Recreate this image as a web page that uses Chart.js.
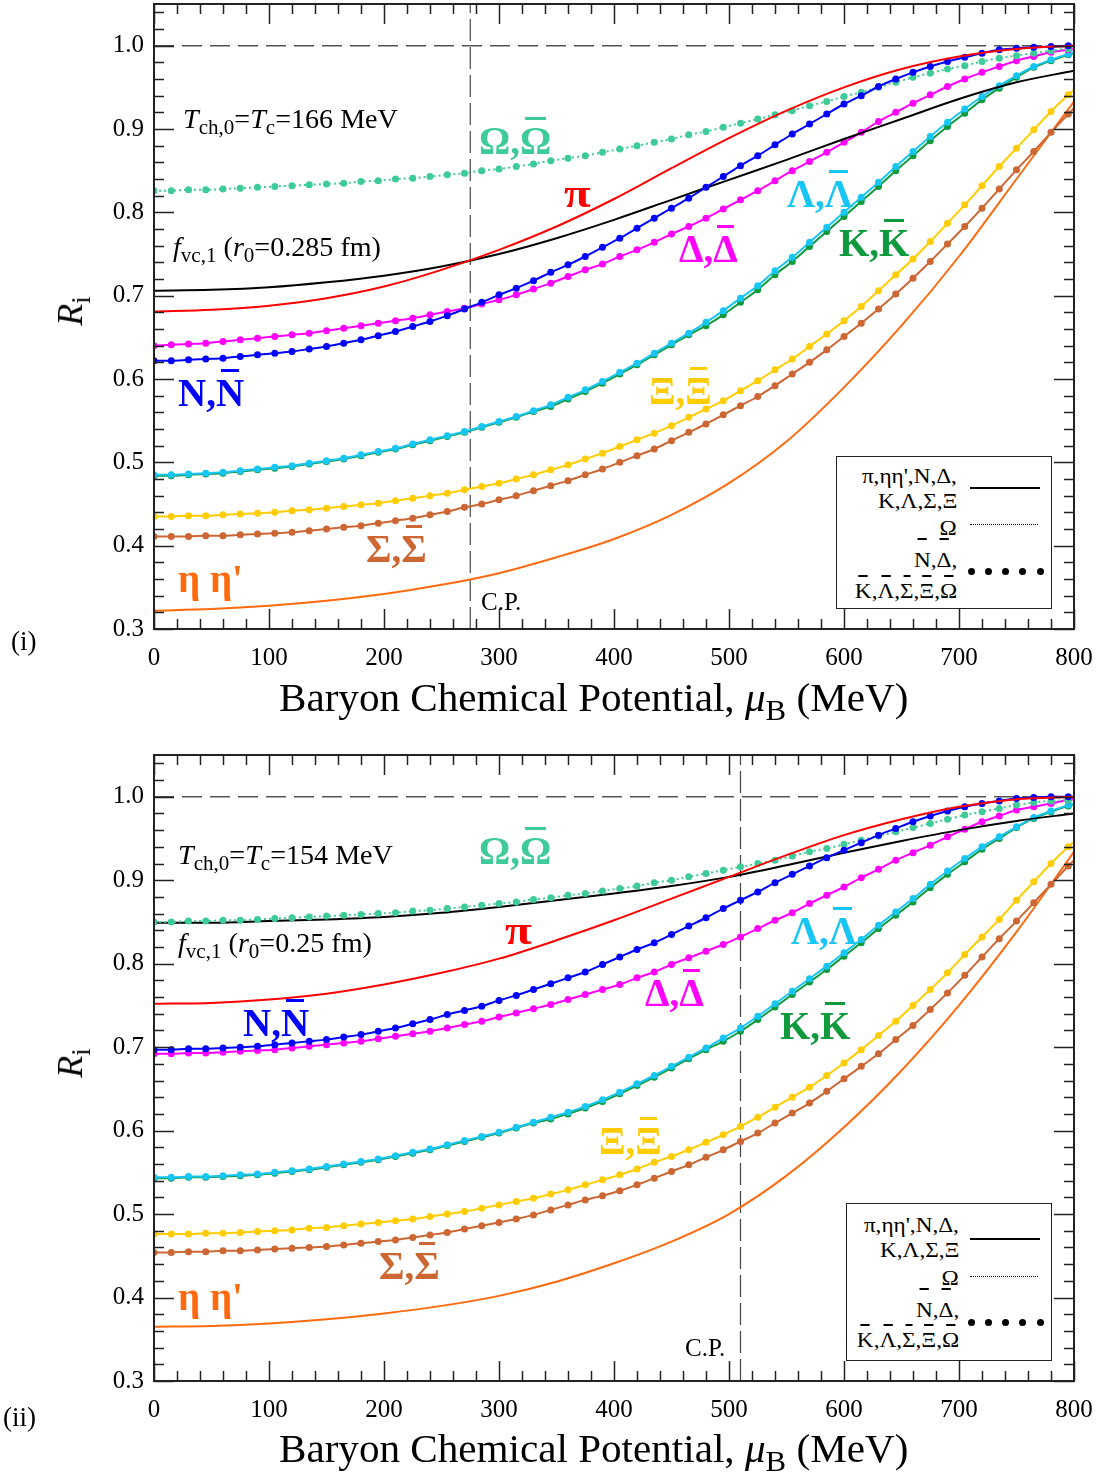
<!DOCTYPE html>
<html>
<head>
<meta charset="utf-8">
<script src="https://cdn.jsdelivr.net/npm/chart.js@4.4.0/dist/chart.umd.min.js"></script>
<style>
  body { margin: 0; background: #fff; }
  #page { position: relative; width: 1101px; height: 1483px; overflow: hidden;
          font-family: 'Liberation Serif', 'Times New Roman', serif; color: #000; }
  canvas { position: absolute; left: 0; }
  .txt { position: absolute; line-height: 1; white-space: nowrap; }
  .txt sub { font-size: 0.75em; vertical-align: -0.3em; line-height: 0; }
  .lab { font-weight: bold; }
  .ov, .ova, .ovb { position: relative; display: inline-block; }
  .ov::after { content: ''; position: absolute; left: 17%; right: 17%; top: -0.1em; height: 3px; background: currentColor; }
  .ova::after { content: ''; position: absolute; left: 22%; right: 22%; top: -0.6em; height: 1.5px; background: #000; }
  .ovb::after { content: ''; position: absolute; left: 22%; right: 22%; top: -0.3em; height: 1.5px; background: #000; }
  .caja { position: absolute; border: 1.5px solid #222; background: #fff; box-sizing: border-box; }
  .muestra { position: absolute; }
  .punto { position: absolute; width: 7px; height: 7px; border-radius: 50%; background: #000; }
</style>
</head>
<body>
<div id="page">
  <canvas id="chart1" width="1101" height="741" style="top:0px"></canvas>
  <canvas id="chart2" width="1101" height="742" style="top:741px"></canvas>
</div>
<script>
/* Datos */

// potencial quimico barionico (MeV), malla de los puntos
const muB = [0, 15, 30, 45, 60, 75, 90, 105, 120, 135, 150, 165, 180, 195, 210, 225, 240, 255, 270, 285,
  300, 315, 330, 345, 360, 375, 390, 405, 420, 435, 450, 465, 480, 495, 510, 525, 540, 555, 570, 585,
  600, 615, 630, 645, 660, 675, 690, 705, 720, 735, 750, 765, 780, 795, 800];
// malla de las curvas sin puntos
const muLinea = [0, 50, 100, 150, 200, 250, 300, 350, 400, 450, 500, 550, 600, 650, 700, 750, 800];

// punto critico (MeV) en cada panel
const cpMu = [275, 510];

// etiquetas de los ejes
const xTicks = [0, 100, 200, 300, 400, 500, 600, 700, 800];
const yTicks = [0.3, 0.4, 0.5, 0.6, 0.7, 0.8, 0.9, 1.0];

/* Panel (i): Tc = 166 MeV */
const N_1 = [0.622, 0.622, 0.623, 0.624, 0.625, 0.627, 0.629, 0.631, 0.633, 0.636, 0.639, 0.643, 0.647, 0.652, 0.657, 0.663, 0.669, 0.676, 0.684, 0.692,
  0.701, 0.709, 0.718, 0.728, 0.737, 0.747, 0.758, 0.769, 0.781, 0.793, 0.805, 0.817, 0.830, 0.843, 0.856, 0.868, 0.881, 0.894, 0.906, 0.918,
  0.930, 0.940, 0.951, 0.960, 0.968, 0.975, 0.981, 0.986, 0.991, 0.995, 0.997, 0.998, 0.999, 1.000, 1.000];
const Delta_1 = [0.640, 0.641, 0.642, 0.643, 0.645, 0.647, 0.649, 0.651, 0.653, 0.655, 0.658, 0.661, 0.664, 0.667, 0.670, 0.673, 0.677, 0.681, 0.685, 0.690,
  0.695, 0.701, 0.708, 0.715, 0.723, 0.731, 0.738, 0.747, 0.755, 0.764, 0.774, 0.783, 0.793, 0.804, 0.815, 0.826, 0.838, 0.850, 0.861, 0.872,
  0.884, 0.896, 0.909, 0.920, 0.931, 0.941, 0.951, 0.960, 0.968, 0.975, 0.982, 0.987, 0.992, 0.995, 0.996];
const Omega_1 = [0.826, 0.826, 0.827, 0.827, 0.828, 0.829, 0.830, 0.831, 0.832, 0.833, 0.834, 0.835, 0.837, 0.838, 0.840, 0.841, 0.843, 0.845, 0.847, 0.850,
  0.852, 0.855, 0.858, 0.862, 0.865, 0.868, 0.872, 0.876, 0.880, 0.884, 0.888, 0.893, 0.897, 0.902, 0.907, 0.912, 0.917, 0.922, 0.928, 0.933,
  0.939, 0.944, 0.950, 0.956, 0.962, 0.967, 0.972, 0.976, 0.981, 0.985, 0.988, 0.991, 0.994, 0.996, 0.996];
const Lambda_1 = [0.485, 0.485, 0.486, 0.487, 0.488, 0.490, 0.492, 0.494, 0.496, 0.499, 0.502, 0.505, 0.509, 0.513, 0.517, 0.522, 0.527, 0.532, 0.537, 0.543,
  0.549, 0.555, 0.562, 0.569, 0.578, 0.587, 0.597, 0.608, 0.619, 0.631, 0.643, 0.655, 0.668, 0.682, 0.697, 0.712, 0.730, 0.746, 0.764, 0.782,
  0.800, 0.818, 0.836, 0.855, 0.873, 0.891, 0.908, 0.924, 0.939, 0.952, 0.964, 0.975, 0.983, 0.990, 0.992];
const K_1 = [0.484, 0.484, 0.485, 0.486, 0.487, 0.489, 0.491, 0.493, 0.495, 0.498, 0.501, 0.504, 0.508, 0.512, 0.516, 0.521, 0.526, 0.531, 0.536, 0.542,
  0.548, 0.554, 0.561, 0.567, 0.576, 0.585, 0.595, 0.606, 0.617, 0.629, 0.641, 0.653, 0.664, 0.677, 0.692, 0.707, 0.725, 0.741, 0.759, 0.777,
  0.795, 0.813, 0.831, 0.850, 0.868, 0.886, 0.903, 0.919, 0.935, 0.949, 0.962, 0.974, 0.982, 0.989, 0.991];
const Xi_1 = [0.435, 0.435, 0.436, 0.436, 0.437, 0.438, 0.439, 0.440, 0.442, 0.443, 0.445, 0.447, 0.449, 0.451, 0.454, 0.457, 0.460, 0.463, 0.467, 0.471,
  0.475, 0.480, 0.485, 0.491, 0.497, 0.504, 0.511, 0.519, 0.527, 0.535, 0.544, 0.554, 0.564, 0.574, 0.586, 0.598, 0.611, 0.624, 0.639, 0.654,
  0.670, 0.687, 0.706, 0.725, 0.744, 0.765, 0.787, 0.809, 0.832, 0.855, 0.877, 0.899, 0.921, 0.941, 0.947];
const Sigma_1 = [0.411, 0.411, 0.411, 0.412, 0.412, 0.413, 0.414, 0.415, 0.416, 0.418, 0.420, 0.422, 0.424, 0.427, 0.430, 0.433, 0.437, 0.441, 0.446, 0.450,
  0.455, 0.460, 0.466, 0.472, 0.478, 0.485, 0.492, 0.500, 0.508, 0.516, 0.526, 0.536, 0.546, 0.557, 0.568, 0.579, 0.592, 0.606, 0.620, 0.635,
  0.651, 0.667, 0.684, 0.702, 0.721, 0.741, 0.762, 0.783, 0.805, 0.828, 0.851, 0.873, 0.896, 0.918, 0.925];
const pi_1 = [0.681, 0.683, 0.688, 0.697, 0.711, 0.731, 0.755, 0.783, 0.816, 0.853, 0.889, 0.922, 0.950, 0.972, 0.987, 0.996, 1.000];
const fvc_1 = [0.706, 0.707, 0.710, 0.716, 0.724, 0.735, 0.750, 0.769, 0.791, 0.815, 0.839, 0.863, 0.888, 0.912, 0.936, 0.956, 0.970];
const eta_1 = [0.322, 0.324, 0.328, 0.334, 0.342, 0.353, 0.367, 0.386, 0.408, 0.437, 0.475, 0.525, 0.590, 0.664, 0.747, 0.840, 0.933];

/* Panel (ii): Tc = 154 MeV */
const N_2 = [0.697, 0.697, 0.698, 0.698, 0.699, 0.700, 0.701, 0.703, 0.705, 0.707, 0.709, 0.712, 0.715, 0.719, 0.723, 0.728, 0.733, 0.739, 0.744, 0.749,
  0.756, 0.762, 0.769, 0.776, 0.783, 0.790, 0.799, 0.808, 0.817, 0.825, 0.835, 0.845, 0.855, 0.866, 0.876, 0.886, 0.897, 0.907, 0.917, 0.927,
  0.936, 0.945, 0.954, 0.962, 0.970, 0.977, 0.983, 0.988, 0.992, 0.995, 0.998, 0.999, 1.000, 1.000, 1.000];
const Delta_2 = [0.692, 0.692, 0.693, 0.693, 0.694, 0.695, 0.696, 0.697, 0.699, 0.701, 0.703, 0.705, 0.707, 0.710, 0.713, 0.716, 0.719, 0.723, 0.727, 0.731,
  0.736, 0.741, 0.746, 0.751, 0.757, 0.763, 0.769, 0.775, 0.783, 0.790, 0.799, 0.807, 0.815, 0.823, 0.832, 0.842, 0.852, 0.861, 0.872, 0.882,
  0.892, 0.903, 0.913, 0.924, 0.933, 0.942, 0.952, 0.961, 0.970, 0.977, 0.984, 0.988, 0.992, 0.996, 0.997];
const Omega_2 = [0.850, 0.850, 0.851, 0.851, 0.852, 0.852, 0.853, 0.854, 0.855, 0.856, 0.857, 0.858, 0.859, 0.860, 0.861, 0.863, 0.864, 0.866, 0.868, 0.870,
  0.872, 0.874, 0.877, 0.879, 0.882, 0.884, 0.887, 0.890, 0.893, 0.897, 0.900, 0.904, 0.908, 0.912, 0.916, 0.920, 0.924, 0.929, 0.934, 0.938,
  0.943, 0.948, 0.953, 0.958, 0.963, 0.968, 0.973, 0.978, 0.982, 0.986, 0.990, 0.993, 0.995, 0.996, 0.997];
const Lambda_2 = [0.544, 0.544, 0.545, 0.545, 0.546, 0.547, 0.548, 0.550, 0.552, 0.554, 0.557, 0.560, 0.563, 0.566, 0.570, 0.574, 0.578, 0.583, 0.588, 0.593,
  0.598, 0.604, 0.610, 0.616, 0.622, 0.629, 0.637, 0.646, 0.656, 0.666, 0.677, 0.688, 0.699, 0.711, 0.723, 0.737, 0.752, 0.767, 0.782, 0.797,
  0.813, 0.829, 0.846, 0.862, 0.878, 0.895, 0.911, 0.926, 0.940, 0.952, 0.964, 0.975, 0.983, 0.990, 0.992];
const K_2 = [0.543, 0.543, 0.544, 0.544, 0.545, 0.546, 0.547, 0.549, 0.551, 0.553, 0.556, 0.559, 0.562, 0.565, 0.569, 0.573, 0.577, 0.582, 0.587, 0.592,
  0.597, 0.603, 0.609, 0.614, 0.620, 0.627, 0.635, 0.644, 0.654, 0.664, 0.675, 0.686, 0.697, 0.707, 0.719, 0.733, 0.748, 0.763, 0.778, 0.793,
  0.809, 0.825, 0.842, 0.858, 0.874, 0.891, 0.907, 0.922, 0.937, 0.950, 0.963, 0.974, 0.982, 0.989, 0.991];
const Xi_2 = [0.476, 0.476, 0.476, 0.477, 0.477, 0.478, 0.479, 0.480, 0.481, 0.483, 0.484, 0.486, 0.488, 0.490, 0.492, 0.494, 0.497, 0.500, 0.503, 0.507,
  0.511, 0.515, 0.519, 0.524, 0.529, 0.535, 0.541, 0.547, 0.554, 0.562, 0.569, 0.577, 0.586, 0.595, 0.605, 0.616, 0.628, 0.640, 0.652, 0.666,
  0.681, 0.697, 0.714, 0.731, 0.750, 0.769, 0.789, 0.811, 0.832, 0.853, 0.876, 0.898, 0.920, 0.940, 0.946];
const Sigma_2 = [0.454, 0.454, 0.455, 0.455, 0.456, 0.456, 0.457, 0.458, 0.459, 0.460, 0.461, 0.463, 0.465, 0.467, 0.469, 0.472, 0.475, 0.478, 0.482, 0.486,
  0.490, 0.494, 0.499, 0.505, 0.511, 0.517, 0.522, 0.528, 0.535, 0.543, 0.551, 0.559, 0.568, 0.577, 0.587, 0.597, 0.609, 0.621, 0.633, 0.647,
  0.662, 0.677, 0.692, 0.709, 0.726, 0.745, 0.765, 0.786, 0.808, 0.830, 0.851, 0.873, 0.895, 0.917, 0.924];
const pi_2 = [0.752, 0.753, 0.757, 0.764, 0.775, 0.789, 0.806, 0.828, 0.852, 0.878, 0.904, 0.930, 0.954, 0.973, 0.988, 0.997, 1.000];
const fvc_2 = [0.849, 0.849, 0.851, 0.853, 0.856, 0.861, 0.868, 0.876, 0.884, 0.893, 0.904, 0.918, 0.933, 0.947, 0.960, 0.971, 0.980];
const eta_2 = [0.365, 0.366, 0.369, 0.374, 0.381, 0.390, 0.402, 0.419, 0.441, 0.467, 0.500, 0.546, 0.604, 0.672, 0.750, 0.838, 0.934];

/* ============================== */

const colores = {
  pi: '#ff0000', fvc: '#000000', N: '#0000ff', Delta: '#ff00ff', Omega: '#3ecb97',
  Lambda: '#18c6f5', K: '#0f9a3e', Xi: '#ffcc00', Sigma: '#cc6633', eta: '#ff6a0e'
};
const fuente = "'Liberation Serif', 'Times New Roman', serif";

function con_puntos(ys, color, dash) {
  return {
    data: muB.map((m, i) => ({ x: m, y: ys[i] })),
    borderColor: color,
    backgroundColor: color,
    pointBackgroundColor: color,
    borderWidth: 2,
    borderDash: dash || [],
    pointRadius: ctx => (ctx.dataIndex === muB.length - 1 ? 0 : 3.5),
    pointBorderWidth: 0,
    cubicInterpolationMode: 'monotone'
  };
}

function suave(ys, color) {
  return {
    data: muLinea.map((m, i) => ({ x: m, y: ys[i] })),
    borderColor: color,
    borderWidth: 2,
    pointRadius: 0,
    cubicInterpolationMode: 'monotone'
  };
}

function linea_ref(puntos, color, dash, ancho) {
  return {
    data: puntos,
    borderColor: color,
    borderWidth: ancho,
    borderDash: dash,
    pointRadius: 0,
    order: 20
  };
}

// marco y marcas hacia dentro en los cuatro lados
const marcoPlugin = {
  id: 'marco',
  afterDatasetsDraw(chart) {
    const { ctx, chartArea: a, scales } = chart;
    const sx = scales.x, sy = scales.y;
    ctx.save();
    ctx.strokeStyle = '#222';
    ctx.lineWidth = 1.5;
    ctx.beginPath();
    for (let v = 0; v <= 800; v += 20) {
      const px = Math.round(sx.getPixelForValue(v)) + 0.5;
      const len = v % 100 === 0 ? 20 : 10;
      ctx.moveTo(px, a.bottom); ctx.lineTo(px, a.bottom - len);
      ctx.moveTo(px, a.top); ctx.lineTo(px, a.top + len);
    }
    for (let k = 15; k <= 52; k++) {
      const py = Math.round(sy.getPixelForValue(k / 50)) + 0.5;
      const len = k % 5 === 0 ? 20 : 10;
      ctx.moveTo(a.left, py); ctx.lineTo(a.left + len, py);
      ctx.moveTo(a.right, py); ctx.lineTo(a.right - len, py);
    }
    ctx.stroke();
    ctx.lineWidth = 2;
    ctx.strokeRect(a.left, a.top, a.right - a.left, a.bottom - a.top);
    ctx.restore();
  }
};

function crear_panel(canvas, s, cp, topPad, altoX) {
  const datasets = [
    suave(s.pi, colores.pi),
    con_puntos(s.N, colores.N),
    con_puntos(s.Omega, colores.Omega, [2, 3]),
    suave(s.fvc, colores.fvc),
    con_puntos(s.Delta, colores.Delta),
    con_puntos(s.Lambda, colores.Lambda),
    con_puntos(s.K, colores.K),
    con_puntos(s.Xi, colores.Xi),
    con_puntos(s.Sigma, colores.Sigma),
    suave(s.eta, colores.eta),
    linea_ref([{ x: 0, y: 1 }, { x: 800, y: 1 }], '#555', [20, 8], 1.5),
    linea_ref([{ x: cp, y: 0.3 }, { x: cp, y: 1.05 }], '#444', [22, 6], 1.2)
  ];
  const config = {
    type: 'line',
    data: { datasets: datasets },
    options: {
      responsive: false,
      animation: false,
      devicePixelRatio: 1,
      layout: { padding: { left: 0, right: 27, top: topPad, bottom: 0 } },
      plugins: { legend: { display: false }, tooltip: { enabled: false } },
      scales: {
        x: {
          type: 'linear', min: 0, max: 800,
          afterBuildTicks: sc => { sc.ticks = xTicks.map(v => ({ value: v })); },
          afterFit: sc => { sc.height = altoX; sc.paddingLeft = 0; sc.paddingRight = 0; },
          grid: { display: false, drawTicks: false },
          border: { display: false },
          ticks: {
            callback: v => String(v),
            color: '#000', padding: 14, maxRotation: 0, autoSkip: false,
            font: { family: fuente, size: 25 }
          }
        },
        y: {
          type: 'linear', min: 0.3, max: 1.05,
          afterBuildTicks: sc => { sc.ticks = yTicks.map(v => ({ value: v })); },
          afterFit: sc => { sc.width = 154; sc.paddingTop = 0; sc.paddingBottom = 0; },
          grid: { display: false, drawTicks: false },
          border: { display: false },
          ticks: {
            callback: v => v.toFixed(1),
            color: '#000', padding: 10, autoSkip: false,
            font: { family: fuente, size: 25 }
          }
        }
      }
    },
    plugins: [marcoPlugin]
  };
  new Chart(canvas, config);
}

crear_panel(document.getElementById('chart1'),
  { N: N_1, Delta: Delta_1, Omega: Omega_1, Lambda: Lambda_1, K: K_1, Xi: Xi_1, Sigma: Sigma_1, pi: pi_1, fvc: fvc_1, eta: eta_1 },
  cpMu[0], 3, 112);
crear_panel(document.getElementById('chart2'),
  { N: N_2, Delta: Delta_2, Omega: Omega_2, Lambda: Lambda_2, K: K_2, Xi: Xi_2, Sigma: Sigma_2, pi: pi_2, fvc: fvc_2, eta: eta_2 },
  cpMu[1], 14, 102);

/* ============================== */
/* Textos */

const page = document.getElementById('page');

function texto(html, x, base, size, estilo, clase) {
  const d = document.createElement('div');
  d.className = 'txt' + (clase ? ' ' + clase : '');
  d.innerHTML = html;
  d.style.left = x + 'px';
  d.style.top = (base - 0.8375 * size) + 'px';
  d.style.fontSize = size + 'px';
  if (estilo) Object.assign(d.style, estilo);
  page.appendChild(d);
  return d;
}

// texto alineado a la derecha y estirado a lo ancho
function texto_der(html, xDer, base, size, estirar) {
  const d = texto(html, 0, base, size);
  d.style.left = 'auto';
  d.style.right = (1101 - xDer) + 'px';
  d.style.transformOrigin = 'right center';
  d.style.transform = 'scaleX(' + estirar + ')';
  return d;
}

function ov(t) { return '<span class="ov">' + t + '</span>'; }

// etiquetas de particulas: [texto, x, linea base, color]
const etiquetas = [
  [ 'Ω,' + ov('Ω'), 479, 154, colores.Omega ],
  [ 'π', 564, 207, colores.pi ],
  [ 'Λ,' + ov('Λ'), 787, 207, colores.Lambda ],
  [ 'Δ,' + ov('Δ'), 679, 262, colores.Delta ],
  [ 'K,' + ov('K'), 839, 256, colores.K ],
  [ 'N,' + ov('N'), 178, 406, colores.N ],
  [ 'Ξ,' + ov('Ξ'), 649, 404, colores.Xi ],
  [ 'Σ,' + ov('Σ'), 366, 562, colores.Sigma ],
  [ "η η'", 178, 592, colores.eta ],
  [ 'Ω,' + ov('Ω'), 479, 864, colores.Omega ],
  [ 'π', 505, 944, colores.pi ],
  [ 'Λ,' + ov('Λ'), 791, 944, colores.Lambda ],
  [ 'Δ,' + ov('Δ'), 645, 1006, colores.Delta ],
  [ 'K,' + ov('K'), 780, 1039, colores.K ],
  [ 'N,' + ov('N'), 243, 1036, colores.N ],
  [ 'Ξ,' + ov('Ξ'), 599, 1154, colores.Xi ],
  [ 'Σ,' + ov('Σ'), 379, 1279, colores.Sigma ],
  [ "η η'", 178, 1310, colores.eta ]
];
etiquetas.forEach(e => {
  const d = texto(e[0], e[1], e[2], 39, { color: e[3] }, 'lab');
  if (e[0] === 'π') d.style.transform = 'scaleX(1.25)';
  d.style.transformOrigin = 'left center';
});

// textos de parametros
const estirado = { transformOrigin: 'left center', transform: 'scaleX(1.04)' };
texto('<i>T</i><sub>ch,0</sub>=<i>T</i><sub>c</sub>=166 MeV', 183, 129, 27, estirado);
texto('<i>f</i><sub>vc,1</sub> (<i>r</i><sub>0</sub>=0.285 fm)', 173, 257, 27, estirado);
texto('<i>T</i><sub>ch,0</sub>=<i>T</i><sub>c</sub>=154 MeV', 178, 865, 27, estirado);
texto('<i>f</i><sub>vc,1</sub> (<i>r</i><sub>0</sub>=0.25 fm)', 178, 953, 27, estirado);
texto('C.P.', 481, 610, 25);
texto('C.P.', 685, 1356, 25);
texto('(i)', 11, 651, 27);
texto('(ii)', 3, 1427, 27);

// titulos de los ejes
const estiradoT = { transformOrigin: 'left center', transform: 'scaleX(1.028)' };
texto('Baryon Chemical Potential, <i>μ</i><sub>B</sub> (MeV)', 279, 711, 40, estiradoT);
texto('Baryon Chemical Potential, <i>μ</i><sub>B</sub> (MeV)', 279, 1462, 40, estiradoT);
[311, 1063].forEach(cy => {
  const d = texto('<i>R</i><sub>i</sub>', 70, 0, 36);
  d.style.top = cy + 'px';
  d.style.transform = 'translate(-50%, -50%) rotate(-90deg)';
});

// leyendas
function leyenda(caja, filas, derecha, ySolida, yPunteada, yPuntos) {
  const c = document.createElement('div');
  c.className = 'caja';
  c.style.left = caja[0] + 'px';
  c.style.top = caja[1] + 'px';
  c.style.width = (caja[2] - caja[0]) + 'px';
  c.style.height = (caja[3] - caja[1]) + 'px';
  page.appendChild(c);
  filas.forEach(f => texto_der(f[0], derecha, f[1], 20, 1.16));
  const s = document.createElement('div');
  s.className = 'muestra';
  Object.assign(s.style, { left: '970px', top: (ySolida - 1) + 'px', width: '70px', borderTop: '2.5px solid #000' });
  page.appendChild(s);
  const p = document.createElement('div');
  p.className = 'muestra';
  Object.assign(p.style, { left: '970px', top: (yPunteada - 1) + 'px', width: '68px', borderTop: '1.5px dotted #000' });
  page.appendChild(p);
  for (let k = 0; k < 5; k++) {
    const d = document.createElement('div');
    d.className = 'punto';
    d.style.left = (971 + k * 17.3 - 3.5) + 'px';
    d.style.top = (yPuntos - 3.5) + 'px';
    page.appendChild(d);
  }
}

const ova = t => '<span class="ova">' + t + '</span>';
const ovb = t => '<span class="ovb">' + t + '</span>';
const filasLeyenda = (b) => [
  [ "π,ηη',N,Δ,", b[0] ],
  [ 'K,Λ,Σ,Ξ', b[1] ],
  [ 'Ω', b[2] ],
  [ ova('N') + ',' + ova('Δ') + ',', b[3] ],
  [ ovb('K') + ',' + ovb('Λ') + ',' + ovb('Σ') + ',' + ovb('Ξ') + ',' + ovb('Ω'), b[4] ]
];
leyenda([836, 456, 1052, 609], filasLeyenda([483, 508, 535, 567, 598]), 957, 488, 525, 571);
leyenda([846, 1203, 1052, 1361], filasLeyenda([1232, 1257, 1285, 1317, 1347]), 959, 1239, 1277, 1322);
</script>
</body>
</html>
